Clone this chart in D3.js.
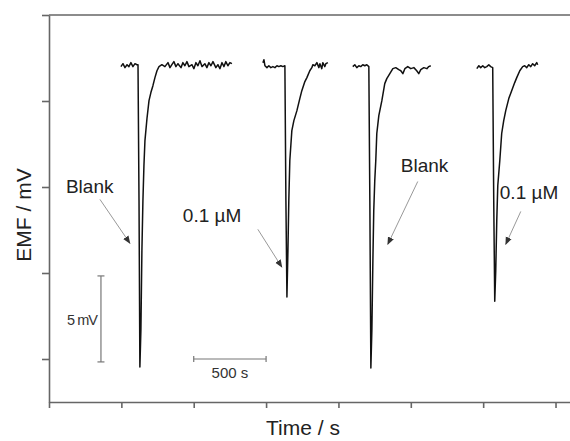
<!DOCTYPE html>
<html>
<head>
<meta charset="utf-8">
<script src="https://cdn.jsdelivr.net/npm/d3@7"></script>
<style>
  body { margin: 0; background: #fff; }
  svg { display: block; font-family: "Liberation Sans", Arial, sans-serif; }
</style>
</head>
<body>
<div id="chart"></div>
<script>
// time in s, EMF in mV (arbitrary offset, only differences matter)
const TIME_TICKS = [0, 500, 1000, 1500, 2000, 2500, 3000, 3500];
const EMF_TICKS = [0, 5, 10, 15, 20];

// injection 1: blank
const run1T = [497, 511, 525, 539, 552, 566, 580, 594, 608, 615, 622, 628, 635, 642, 649, 656, 663, 677, 691, 704, 718, 732, 746, 760, 780,
  801, 822, 836, 849, 863, 877, 891, 912, 925, 939, 953, 967, 988, 1001, 1015, 1029, 1043, 1057, 1077, 1091, 1105, 1119, 1133, 1153, 1167, 1181, 1195, 1209, 1222, 1236, 1250, 1264];
const run1V = [17.00, 17.17, 16.94, 17.11, 17.00, 17.23, 17.00, 17.17, 17.11, 17.11, 9.22, -0.46, 1.68, 6.32, 9.22, 11.25, 12.70, 13.98, 15.02, 15.49, 15.89, 16.36, 16.76, 17.00, 17.11,
  17.00, 17.23, 16.94, 17.11, 17.29, 17.00, 17.17, 16.94, 17.23, 17.05, 17.29, 17.00, 17.11, 16.88, 17.23, 17.05, 17.34, 17.00, 17.17, 16.94, 17.23, 17.05, 17.29, 16.94, 17.11, 16.88, 17.23, 17.00, 17.29, 17.05, 17.23, 17.17];

// injection 2: 0.1 µM
const run2T = [1478, 1485, 1492, 1506, 1519, 1533, 1547, 1561, 1575, 1588, 1602, 1616, 1630, 1637, 1644, 1651, 1657, 1664, 1671, 1678, 1692, 1713, 1733, 1747, 1768, 1782, 1802, 1816, 1823,
  1837, 1851, 1865, 1872, 1885, 1892, 1906, 1913, 1927];
const run2V = [17.23, 17.40, 17.05, 16.94, 17.05, 16.94, 17.00, 16.94, 17.05, 17.00, 17.05, 17.00, 17.05, 9.22, 3.60, 6.32, 9.22, 11.54, 12.41, 13.28, 13.86, 14.44, 15.14, 15.60, 16.13, 16.36, 16.76, 16.94, 17.11,
  17.05, 17.23, 16.94, 17.17, 16.88, 17.23, 17.00, 17.17, 17.23];

// injection 3: blank
const run3T = [2099, 2113, 2127, 2141, 2154, 2168, 2182, 2196, 2210, 2217, 2224, 2231, 2238, 2244, 2251, 2258, 2265, 2279, 2300, 2320, 2334, 2355, 2376,
  2396, 2417, 2431, 2445, 2459, 2479, 2500, 2521, 2541, 2555, 2569, 2590, 2611, 2624, 2638];
const run3V = [17.00, 17.11, 16.94, 17.05, 17.00, 17.11, 17.05, 17.11, 17.00, 9.22, -0.52, 1.68, 5.74, 8.64, 10.38, 11.54, 13.11, 14.15, 15.02, 16.01, 16.30, 16.59, 16.88,
  16.94, 16.82, 16.76, 16.59, 16.88, 17.00, 16.88, 16.94, 16.76, 16.59, 16.82, 16.94, 16.88, 17.00, 17.05];

// injection 4: 0.1 µM
const run4T = [2956, 2970, 2983, 2997, 3011, 3025, 3039, 3052, 3066, 3073, 3080, 3087, 3094, 3101, 3115, 3128, 3142, 3156, 3177, 3197, 3218, 3232, 3253, 3273,
  3287, 3301, 3315, 3329, 3342, 3356, 3370, 3377];
const run4V = [16.88, 17.05, 16.94, 17.05, 16.94, 17.00, 17.11, 17.00, 16.94, 9.22, 3.36, 5.16, 8.06, 10.09, 11.54, 13.11, 13.86, 14.44, 15.14, 15.60, 16.07, 16.36, 16.76, 17.00,
  17.05, 16.94, 17.11, 17.00, 17.17, 17.05, 17.23, 17.11];

const runs = [[run1T, run1V], [run2T, run2V], [run3T, run3V], [run4T, run4V]];

// labels: text, text anchor (t, v), arrow from (t, v) to (t, v)
const labelText = ["Blank", "0.1 µM", "Blank", "0.1 µM"];
const labelAt = [[117, 9.68], [925, 7.96], [2431, 10.9], [3115, 9.3]];
const arrowFrom = [[352, 9.28], [1443, 7.54], [2548, 10.32], [3260, 8.58]];
const arrowTo = [[559, 6.73], [1609, 5.34], [2341, 6.67], [3156, 6.67]];

// scale bars
const barTime = [1000, 1500];   // 500 s at EMF 0
const barEmf = [-0.17, 4.83];   // 5 mV at t = 359 s
const barEmfAt = 359;

const W = 570, H = 441;
const svg = d3.select("#chart").append("svg")
    .attr("width", W)
    .attr("height", H);

const x = d3.scaleLinear().domain([0, 3600]).range([49, 570]);
const y = d3.scaleLinear().domain([-2.5, 20]).range([402, 15]);

const axisColor = "#666";

// top frame line
svg.append("line")
    .attr("x1", x(0)).attr("x2", x(3600))
    .attr("y1", y(20)).attr("y2", y(20))
    .attr("stroke", axisColor).attr("stroke-width", 1.6);

const yAxisEl = svg.append("g")
    .attr("transform", `translate(${x(0)},0)`)
    .call(d3.axisLeft(y).tickValues(EMF_TICKS).tickSize(7).tickSizeOuter(0).tickFormat(""));

const xAxisEl = svg.append("g")
    .attr("transform", `translate(0,${y(-2.5)})`)
    .call(d3.axisBottom(x).tickValues(TIME_TICKS).tickSize(6).tickSizeOuter(0).tickFormat(""));

[yAxisEl, xAxisEl].forEach(g => {
    g.select(".domain").attr("stroke", axisColor).attr("stroke-width", 1.6);
    g.selectAll(".tick line").attr("stroke", axisColor).attr("stroke-width", 1.6);
});

// axis titles
svg.append("text")
    .attr("transform", `translate(31, 215) rotate(-90)`)
    .attr("text-anchor", "middle")
    .attr("font-size", 21)
    .attr("fill", "#222")
    .text("EMF / mV");

svg.append("text")
    .attr("x", 303)
    .attr("y", 435)
    .attr("text-anchor", "middle")
    .attr("font-size", 21)
    .attr("fill", "#222")
    .text("Time / s");

// traces
const line = d3.line()
    .x(d => x(d[0]))
    .y(d => y(d[1]));

runs.forEach(([ts, vs]) => {
    svg.append("path")
        .datum(ts.map((t, i) => [t, vs[i]]))
        .attr("fill", "none")
        .attr("stroke", "#111")
        .attr("stroke-width", 1.5)
        .attr("stroke-linejoin", "round")
        .attr("d", line);
});

// scale bars
const barColor = "#777";
const sb = svg.append("g").attr("stroke", barColor).attr("stroke-width", 1.2);
sb.append("line")
    .attr("x1", x(barTime[0])).attr("x2", x(barTime[1]))
    .attr("y1", y(0)).attr("y2", y(0));
barTime.forEach(t => sb.append("line")
    .attr("x1", x(t)).attr("x2", x(t))
    .attr("y1", y(0) - 3).attr("y2", y(0) + 3));
sb.append("line")
    .attr("x1", x(barEmfAt)).attr("x2", x(barEmfAt))
    .attr("y1", y(barEmf[0])).attr("y2", y(barEmf[1]));
barEmf.forEach(v => sb.append("line")
    .attr("x1", x(barEmfAt) - 3.5).attr("x2", x(barEmfAt) + 3.5)
    .attr("y1", y(v)).attr("y2", y(v)));

svg.append("text")
    .attr("x", (x(barTime[0]) + x(barTime[1])) / 2)
    .attr("y", y(0) + 19)
    .attr("text-anchor", "middle")
    .attr("font-size", 15)
    .attr("fill", "#333")
    .text("500 s");

svg.append("text")
    .attr("x", x(barEmfAt) - 4)
    .attr("y", y((barEmf[0] + barEmf[1]) / 2) + 6)
    .attr("text-anchor", "end")
    .attr("font-size", 14.5)
    .attr("letter-spacing", -1)
    .attr("fill", "#333")
    .text("5 mV");

// annotations
svg.append("defs").append("marker")
    .attr("id", "head")
    .attr("viewBox", "0 0 10 10")
    .attr("refX", 9).attr("refY", 5)
    .attr("markerWidth", 8).attr("markerHeight", 8)
    .attr("markerUnits", "userSpaceOnUse")
    .attr("orient", "auto")
    .append("path")
    .attr("d", "M0,1L10,5L0,9z")
    .attr("fill", "#333");

labelText.forEach((txt, i) => {
    svg.append("text")
        .attr("x", x(labelAt[i][0]))
        .attr("y", y(labelAt[i][1]))
        .attr("font-size", 19)
        .attr("fill", "#222")
        .text(txt);
    svg.append("line")
        .attr("x1", x(arrowFrom[i][0])).attr("y1", y(arrowFrom[i][1]))
        .attr("x2", x(arrowTo[i][0])).attr("y2", y(arrowTo[i][1]))
        .attr("stroke", "#999")
        .attr("stroke-width", 1)
        .attr("marker-end", "url(#head)");
});
</script>
</body>
</html>
